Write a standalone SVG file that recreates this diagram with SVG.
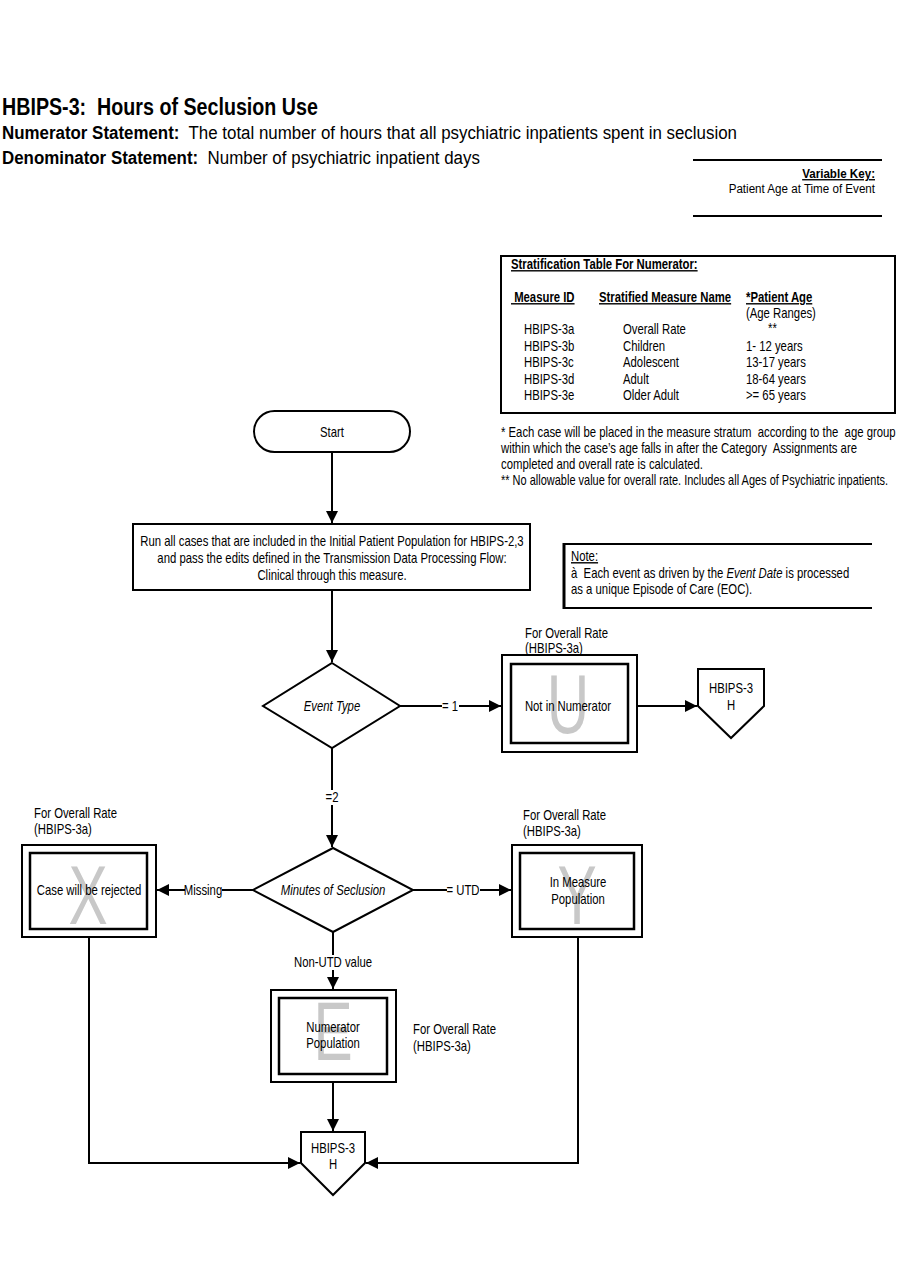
<svg xmlns="http://www.w3.org/2000/svg" width="900" height="1286" viewBox="0 0 900 1286">
<style>
text{font-family:"Liberation Sans",Arial,sans-serif;fill:#000}
.n{font-size:14px}
.k{font-size:13.5px}
.c{text-anchor:middle}
.e{text-anchor:end}
.b{font-weight:bold}
.u{text-decoration:underline}
.i{font-style:italic}
.shape{fill:#fff;stroke:#000;stroke-width:2}
.inner{fill:none;stroke:#000;stroke-width:2.5}
.big{font-size:84px;fill:#c8c8c8;text-anchor:middle}
.conn{fill:none;stroke:#000;stroke-width:2}
.lbg{fill:#fff;stroke:none}
.rule{stroke:#000;stroke-width:2}
</style>
<defs>
<marker id="ah" markerUnits="userSpaceOnUse" markerWidth="14" markerHeight="12" refX="12" refY="6" orient="auto">
<path d="M0,0 L12,6 L0,12 Z" fill="#000"/>
</marker>
</defs>
<rect width="900" height="1286" fill="#fff"/>

<g id="header">
<text transform="translate(2 115) scale(.82 1)" class="b" style="font-size:24px">HBIPS-3:&#160; Hours of Seclusion Use</text>
<text transform="translate(2 139) scale(.89 1)" style="font-size:19px"><tspan class="b">Numerator Statement:</tspan>&#160; The total number of hours that all psychiatric inpatients spent in seclusion</text>
<text transform="translate(2 164) scale(.89 1)" style="font-size:19px"><tspan class="b">Denominator Statement:</tspan>&#160; Number of psychiatric inpatient days</text>
</g>

<g id="variable-key">
<line class="rule" x1="693" y1="160" x2="882" y2="160"/>
<line class="rule" x1="693" y1="216" x2="882" y2="216"/>
<text transform="translate(875 178) scale(.86 1)" class="k e b u">Variable Key:</text>
<text transform="translate(875 193) scale(.86 1)" class="k e">Patient Age at Time of Event</text>
</g>

<g id="stratification-table">
<rect x="501" y="256" width="394" height="157" fill="#fff" stroke="#000" stroke-width="2"/>
<text transform="translate(511 269) scale(.81 1)" class="n b u">Stratification Table For Numerator:</text>
<text transform="translate(511 302) scale(.81 1)" class="n b u">&#160;Measure ID</text>
<text transform="translate(599 302) scale(.81 1)" class="n b u">Stratified Measure Name</text>
<text transform="translate(746 302) scale(.81 1)" class="n b u">*Patient Age</text>
<text transform="translate(746 318) scale(.81 1)" class="n">(Age Ranges)</text>
<text transform="translate(524 334) scale(.81 1)" class="n">HBIPS-3a</text>
<text transform="translate(623 334) scale(.81 1)" class="n">Overall Rate</text>
<text transform="translate(768 333) scale(.81 1)" class="n">**</text>
<text transform="translate(524 351) scale(.81 1)" class="n">HBIPS-3b</text>
<text transform="translate(623 351) scale(.81 1)" class="n">Children</text>
<text transform="translate(746 351) scale(.81 1)" class="n">1- 12 years</text>
<text transform="translate(524 367) scale(.81 1)" class="n">HBIPS-3c</text>
<text transform="translate(623 367) scale(.81 1)" class="n">Adolescent</text>
<text transform="translate(746 367) scale(.81 1)" class="n">13-17 years</text>
<text transform="translate(524 384) scale(.81 1)" class="n">HBIPS-3d</text>
<text transform="translate(623 384) scale(.81 1)" class="n">Adult</text>
<text transform="translate(746 384) scale(.81 1)" class="n">18-64 years</text>
<text transform="translate(524 400) scale(.81 1)" class="n">HBIPS-3e</text>
<text transform="translate(623 400) scale(.81 1)" class="n">Older Adult</text>
<text transform="translate(746 400) scale(.81 1)" class="n">&gt;= 65 years</text>
</g>

<g id="footnotes">
<text transform="translate(501 437) scale(.81 1)" class="n">* Each case will be placed in the measure stratum&#160; according to the&#160; age group</text>
<text transform="translate(501 453) scale(.81 1)" class="n">within which the case’s age falls in after the Category&#160; Assignments are</text>
<text transform="translate(501 469) scale(.81 1)" class="n">completed and overall rate is calculated.</text>
<text transform="translate(501 485) scale(.785 1)" class="n">** No allowable value for overall rate. Includes all Ages of Psychiatric inpatients.</text>
</g>

<g id="note">
<line class="rule" x1="564" y1="544" x2="872" y2="544"/>
<line class="rule" x1="564" y1="608" x2="872" y2="608"/>
<line x1="564" y1="543" x2="564" y2="609" stroke="#000" stroke-width="3"/>
<text transform="translate(571 561) scale(.81 1)" class="n u">Note:</text>
<text transform="translate(571 578) scale(.81 1)" class="n">à&#160; Each event as driven by the <tspan class="i">Event Date</tspan> is processed</text>
<text transform="translate(571 594) scale(.81 1)" class="n">as a unique Episode of Care (EOC).</text>
</g>

<g id="connectors">
<line class="conn" x1="332" y1="452" x2="332" y2="523" marker-end="url(#ah)"/>
<line class="conn" x1="332" y1="590" x2="332" y2="662" marker-end="url(#ah)"/>
<line class="conn" x1="400" y1="706" x2="501" y2="706" marker-end="url(#ah)"/>
<line class="conn" x1="637" y1="706" x2="697" y2="706" marker-end="url(#ah)"/>
<line class="conn" x1="332" y1="748" x2="332" y2="847" marker-end="url(#ah)"/>
<line class="conn" x1="253" y1="890" x2="157" y2="890" marker-end="url(#ah)"/>
<line class="conn" x1="413" y1="890" x2="511" y2="890" marker-end="url(#ah)"/>
<line class="conn" x1="333" y1="932" x2="333" y2="989" marker-end="url(#ah)"/>
<line class="conn" x1="333" y1="1082" x2="333" y2="1131" marker-end="url(#ah)"/>
<polyline class="conn" points="89,937 89,1163 300,1163" marker-end="url(#ah)"/>
<polyline class="conn" points="578,937 578,1163 366,1163" marker-end="url(#ah)"/>
<rect class="lbg" x="442" y="699" width="17" height="15"/>
<text transform="translate(450 711) scale(.81 1)" class="n c">= 1</text>
<rect class="lbg" x="324" y="790" width="16" height="15"/>
<text transform="translate(332 802) scale(.81 1)" class="n c">=2</text>
<rect class="lbg" x="185" y="883" width="37" height="15"/>
<text transform="translate(203 895) scale(.81 1)" class="n c">Missing</text>
<rect class="lbg" x="447" y="883" width="33" height="15"/>
<text transform="translate(463 895) scale(.81 1)" class="n c">= UTD</text>
<rect class="lbg" x="288" y="955" width="90" height="15"/>
<text transform="translate(333 967) scale(.81 1)" class="n c">Non-UTD value</text>
</g>

<g id="start">
<rect class="shape" x="254" y="411" width="156" height="41" rx="20.5"/>
<text transform="translate(332 437) scale(.81 1)" class="n c">Start</text>
</g>

<g id="initial-population">
<rect class="shape" x="133" y="524" width="397" height="66"/>
<text transform="translate(332 546) scale(.81 1)" class="n c">Run all cases that are included in the Initial Patient Population for HBIPS-2,3</text>
<text transform="translate(332 563) scale(.81 1)" class="n c">and pass the edits defined in the Transmission Data Processing Flow:</text>
<text transform="translate(332 580) scale(.81 1)" class="n c">Clinical through this measure.</text>
</g>

<g id="event-type">
<polygon class="shape" points="332,663 400,706 332,748 263,706"/>
<text transform="translate(332 711) scale(.81 1)" class="n c i">Event Type</text>
</g>

<g id="not-in-numerator">
<text transform="translate(525 638) scale(.81 1)" class="n">For Overall Rate</text>
<text transform="translate(525 653) scale(.81 1)" class="n">(HBIPS-3a)</text>
<rect class="shape" x="502" y="655" width="135" height="97"/>
<rect class="inner" x="511" y="664" width="117" height="79"/>
<text transform="translate(568 733) scale(.7 1)" class="big">U</text>
<text transform="translate(568 711) scale(.81 1)" class="n c">Not in Numerator</text>
</g>

<g id="hbips3-h-top">
<polygon class="shape" points="698,669 764,669 764,706 731,738 698,706"/>
<text transform="translate(731 693) scale(.81 1)" class="n c">HBIPS-3</text>
<text transform="translate(731 710) scale(.81 1)" class="n c">H</text>
</g>

<g id="minutes-of-seclusion">
<polygon class="shape" points="333,848 413,890 333,932 253,890"/>
<text transform="translate(333 895) scale(.81 1)" class="n c i">Minutes of Seclusion</text>
</g>

<g id="case-rejected">
<text transform="translate(34 818) scale(.81 1)" class="n">For Overall Rate</text>
<text transform="translate(34 834) scale(.81 1)" class="n">(HBIPS-3a)</text>
<rect class="shape" x="22" y="845" width="134" height="92"/>
<rect class="inner" x="30" y="853" width="117" height="76"/>
<text transform="translate(88 924) scale(.7 1)" class="big">X</text>
<text transform="translate(89 895) scale(.81 1)" class="n c">Case will be rejected</text>
</g>

<g id="in-measure-population">
<text transform="translate(523 820) scale(.81 1)" class="n">For Overall Rate</text>
<text transform="translate(523 836) scale(.81 1)" class="n">(HBIPS-3a)</text>
<rect class="shape" x="512" y="845" width="130" height="92"/>
<rect class="inner" x="520" y="853" width="114" height="76"/>
<text transform="translate(577 924) scale(.7 1)" class="big">Y</text>
<text transform="translate(578 887) scale(.81 1)" class="n c">In Measure</text>
<text transform="translate(578 904) scale(.81 1)" class="n c">Population</text>
</g>

<g id="numerator-population">
<rect class="shape" x="271" y="990" width="125" height="92"/>
<rect class="inner" x="279" y="998" width="108" height="76"/>
<text transform="translate(333 1060) scale(.7 1)" class="big">E</text>
<text transform="translate(333 1032) scale(.81 1)" class="n c">Numerator</text>
<text transform="translate(333 1048) scale(.81 1)" class="n c">Population</text>
<text transform="translate(413 1034) scale(.81 1)" class="n">For Overall Rate</text>
<text transform="translate(413 1051) scale(.81 1)" class="n">(HBIPS-3a)</text>
</g>

<g id="hbips3-h-bottom">
<polygon class="shape" points="301,1132 365,1132 365,1163 333,1195 301,1163"/>
<text transform="translate(333 1153) scale(.81 1)" class="n c">HBIPS-3</text>
<text transform="translate(333 1169) scale(.81 1)" class="n c">H</text>
</g>
</svg>
